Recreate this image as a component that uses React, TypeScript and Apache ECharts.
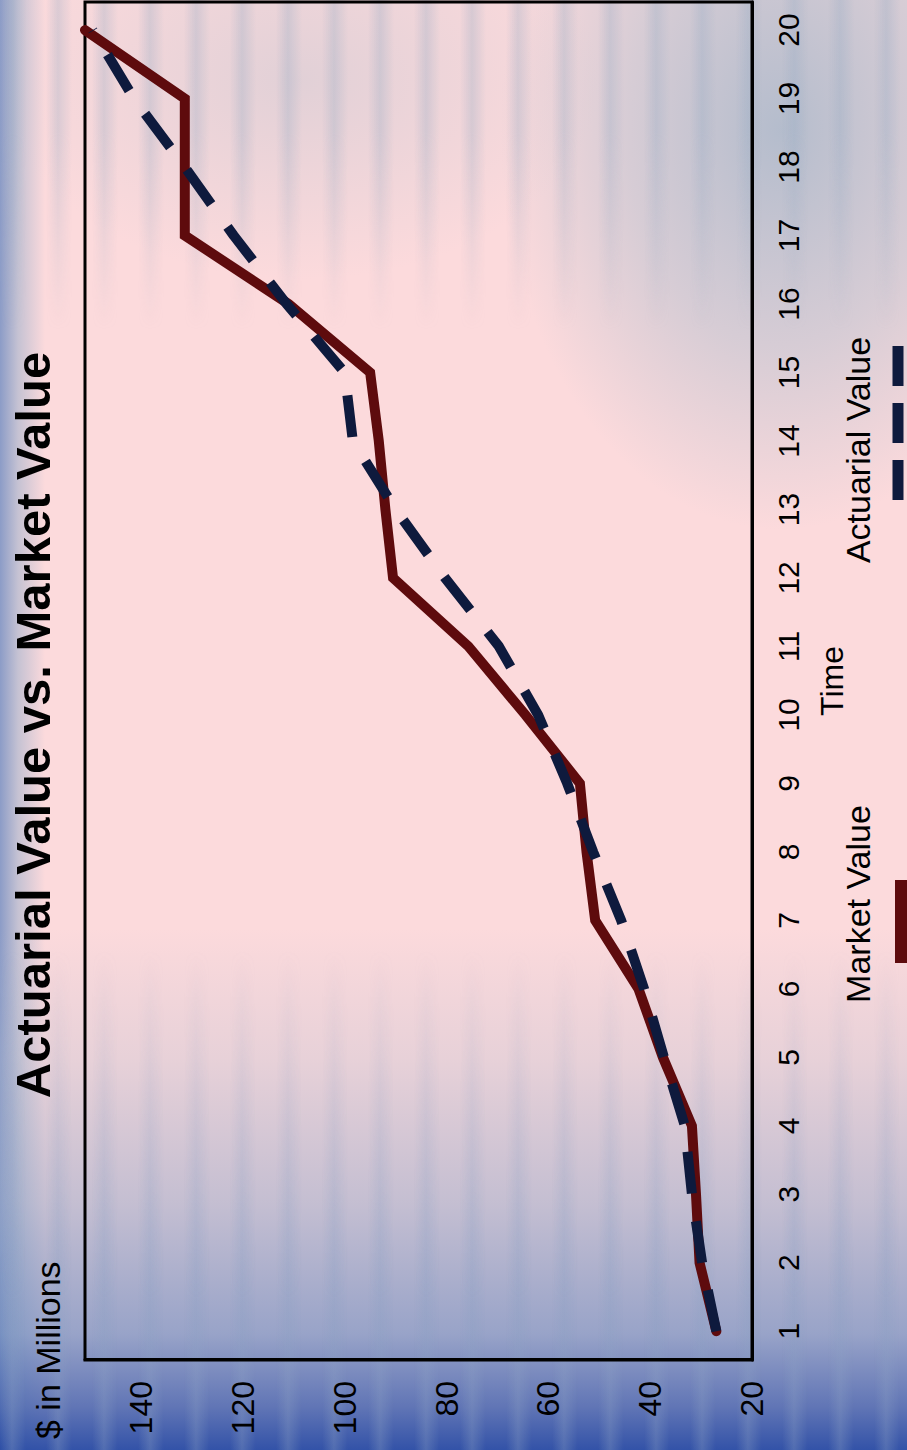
import React, { useEffect, useRef } from "react";
import * as echarts from "echarts";

const FONT = '"Liberation Sans", Arial, Helvetica, sans-serif';

const TITLE = "Actuarial Value vs. Market Value";
const Y_UNIT_LABEL = "$ in Millions";
const X_NAME = "Time";
const SERIES_NAMES = ["Market Value", "Actuarial Value"];

const times = [1, 2, 3, 4, 5, 6, 7, 8, 9, 10, 11, 12, 13, 14, 15, 16, 17, 18, 19, 20];
const marketValue = [27, 30.3, 31, 31.8, 37.5, 42.3, 50.8, 52.5, 53.8, 64.5, 75.7, 90.5, 92, 93.3, 95, 111, 131.4, 131.4, 131.4, 151];
const actuarialValue = [27, 29.8, 31.8, 33.2, 37.3, 41.2, 45.7, 51.2, 56.3, 62, 69.7, 80.3, 90, 98.4, 100, 111.4, 121.8, 131.4, 141.4, 149.5];

const valueMin = 20;
const valueMax = 151;
const valueInterval = 20;

const MARKET_COLOR = "#5e0b0d";
const ACTUARIAL_COLOR = "#0e1a3d";

export default function App() {
  const ref = useRef<HTMLDivElement>(null);

  useEffect(() => {
    if (!ref.current) return;
    const chart = echarts.init(ref.current, undefined, { renderer: "svg" });
    const option: any = {
      animation: false,
      textStyle: { fontFamily: FONT, color: "#000" },
      title: {
        text: TITLE,
        left: "center",
        top: 3,
        textStyle: { fontSize: 49, fontWeight: "bold", color: "#000", fontFamily: FONT },
      },
      grid: {
        left: 90,
        right: 2,
        top: 85,
        bottom: 155,
        show: true,
        borderColor: "#000",
        borderWidth: 3,
        backgroundColor: "transparent",
        containLabel: false,
        outerBoundsMode: "none",
      },
      xAxis: {
        type: "value",
        min: 0.58,
        max: 20.41,
        name: X_NAME,
        nameLocation: "middle",
        nameGap: 64,
        nameTextStyle: { fontSize: 32, color: "#000", fontFamily: FONT },
        axisLine: { show: true, lineStyle: { color: "#000", width: 3 } },
        axisTick: { show: false },
        splitLine: { show: false },
        axisLabel: {
          customValues: times,
          fontSize: 30,
          color: "#000",
          margin: 21,
          fontFamily: FONT,
        },
      },
      yAxis: {
        type: "value",
        min: valueMin,
        max: valueMax,
        interval: valueInterval,
        axisLine: { show: true, lineStyle: { color: "#000", width: 3 } },
        axisTick: { show: false },
        splitLine: { show: false },
        axisLabel: {
          fontSize: 32,
          color: "#000",
          margin: 21,
          showMaxLabel: false,
          fontFamily: FONT,
        },
      },
      series: [
        {
          name: SERIES_NAMES[0],
          type: "line",
          data: times.map((t, i) => [t, marketValue[i]]),
          showSymbol: false,
          symbol: "none",
          clip: false,
          z: 3,
          lineStyle: { color: MARKET_COLOR, width: 10, cap: "round", join: "miter" },
          itemStyle: { color: MARKET_COLOR },
        },
        {
          name: SERIES_NAMES[1],
          type: "line",
          data: times.map((t, i) => [t, actuarialValue[i]]),
          showSymbol: false,
          symbol: "none",
          clip: false,
          z: 4,
          lineStyle: { color: ACTUARIAL_COLOR, width: 10, type: [42, 28], cap: "butt" },
          itemStyle: { color: ACTUARIAL_COLOR },
        },
      ],
      graphic: [
        {
          type: "text",
          x: 11,
          y: 48,
          style: {
            text: Y_UNIT_LABEL,
            font: `34px ${FONT}`,
            fill: "#000",
            textAlign: "left",
            textVerticalAlign: "middle",
          },
        },
        {
          type: "text",
          x: 546,
          y: 858,
          style: {
            text: SERIES_NAMES[0],
            font: `34px ${FONT}`,
            fill: "#000",
            textAlign: "center",
            textVerticalAlign: "middle",
          },
        },
        {
          type: "text",
          x: 1000,
          y: 858,
          style: {
            text: SERIES_NAMES[1],
            font: `34px ${FONT}`,
            fill: "#000",
            textAlign: "center",
            textVerticalAlign: "middle",
          },
        },
        {
          type: "line",
          shape: { x1: 487, y1: 901, x2: 570, y2: 901 },
          style: { stroke: MARKET_COLOR, lineWidth: 12 },
        },
        {
          type: "line",
          shape: { x1: 950, y1: 898, x2: 1105, y2: 898 },
          style: { stroke: ACTUARIAL_COLOR, lineWidth: 11, lineDash: [40, 17] },
        },
      ],
    };
    chart.setOption(option);
    return () => chart.dispose();
  }, []);

  const background = [
    "linear-gradient(to top, rgba(40,75,165,0.95) 0%, rgba(70,100,175,0.85) 3%, rgba(110,140,192,0.7) 8%, rgba(145,165,200,0.52) 17%, rgba(170,182,205,0.25) 27%, rgba(200,200,215,0) 36%)",
    "linear-gradient(to right, rgba(120,145,195,0.85) 0px, rgba(160,178,205,0.6) 18px, rgba(200,200,215,0) 45px)",
    "radial-gradient(ellipse 280px 400px at 780px 130px, rgba(160,180,200,0.78) 0%, rgba(170,188,205,0.45) 55%, rgba(180,190,205,0) 100%)",
    "radial-gradient(ellipse 300px 200px at 300px 80px, rgba(175,190,205,0.35) 0%, rgba(180,190,205,0) 100%)",
    "#fcdadc",
  ].join(", ");

  const stripeBottom = {
    position: "absolute" as const,
    left: 0,
    top: 950,
    width: 907,
    height: 500,
    background:
      "repeating-linear-gradient(to right, rgba(140,160,195,0) 0px, rgba(140,160,195,0.35) 12px, rgba(140,160,195,0) 26px, rgba(140,160,195,0) 46px)",
    WebkitMaskImage: "linear-gradient(to top, rgba(0,0,0,1) 30%, rgba(0,0,0,0) 100%)",
    maskImage: "linear-gradient(to top, rgba(0,0,0,1) 30%, rgba(0,0,0,0) 100%)",
  };

  const stripeTop = {
    position: "absolute" as const,
    left: 0,
    top: 0,
    width: 907,
    height: 330,
    background:
      "repeating-linear-gradient(to right, rgba(150,170,195,0) 0px, rgba(150,170,195,0.3) 12px, rgba(150,170,195,0) 26px, rgba(150,170,195,0) 46px)",
    WebkitMaskImage: "linear-gradient(to bottom, rgba(0,0,0,1) 40%, rgba(0,0,0,0) 100%)",
    maskImage: "linear-gradient(to bottom, rgba(0,0,0,1) 40%, rgba(0,0,0,0) 100%)",
  };

  return (
    <div
      style={{
        position: "fixed",
        left: 0,
        top: 0,
        width: 907,
        height: 1450,
        overflow: "hidden",
        background,
      }}
    >
      <div style={stripeBottom} />
      <div style={stripeTop} />
      <div
        ref={ref}
        style={{
          position: "absolute",
          left: 0,
          top: 0,
          width: 1450,
          height: 907,
          transformOrigin: "0 0",
          transform: "translate(0px, 1450px) rotate(-90deg)",
        }}
      />
    </div>
  );
}
